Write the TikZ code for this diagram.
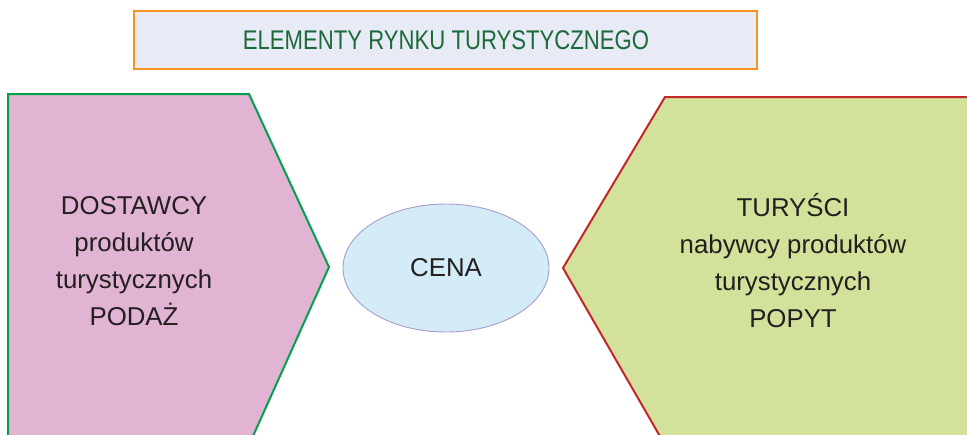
\documentclass[tikz,border=0pt]{standalone}
\usepackage{fontspec}
\setmainfont{Liberation Sans}
\usetikzlibrary{shapes.geometric}
\definecolor{titlefill}{HTML}{E8EAF5}
\definecolor{titleline}{HTML}{F7941D}
\definecolor{titletext}{HTML}{1B6B3A}
\definecolor{supplyfill}{HTML}{E1B4D4}
\definecolor{supplyline}{HTML}{00A14B}
\definecolor{demandfill}{HTML}{D2E29A}
\definecolor{demandline}{HTML}{C1272D}
\definecolor{pricefill}{HTML}{D4ECF8}
\definecolor{priceline}{HTML}{A79DC9}
\definecolor{ink}{HTML}{231F20}
\tikzset{
  bodytext/.style={text=ink, align=center, font=\fontsize{25.8}{37}\selectfont},
  titletextstyle/.style={text=titletext, font=\fontsize{27}{30}\selectfont}
}
\begin{document}
\begin{tikzpicture}[x=1pt,y=-1pt]
\useasboundingbox (0,0) rectangle (967,434);
\clip (0,0) rectangle (967,434);
\fill[white] (0,0) rectangle (967,434);

% heading bar
\draw[titleline, line width=1.6pt, fill=titlefill] (134,11) rectangle (757,69);
\node[titletextstyle] (title) at (446,40.5) {\scalebox{0.82}[1]{ELEMENTY RYNKU TURYSTYCZNEGO}};

% supply side arrow shape
\draw[supplyline, line width=2pt, fill=supplyfill, line join=miter]
  (8,445) -- (8,94) -- (249,94) -- (329,267) -- (249,445);
\node[bodytext] (supply) at (134,261) {DOSTAWCY\\produktów\\turystycznych\\PODAŻ};

% demand side arrow shape: body filled, then the open outline on top
\fill[demandfill] (975,97) -- (665,97) -- (563,268) -- (665,445) -- (975,445) -- cycle;
\draw[demandline, line width=2pt, line join=miter]
  (975,97) -- (665,97) -- (563,268) -- (665,445);
\node[bodytext] (demand) at (793,261) {TURYŚCI\\nabywcy produktów\\turystycznych\\POPYT};

% price in the middle
\node[ellipse, draw=priceline, line width=0.9pt, fill=pricefill,
      minimum width=206pt, minimum height=128pt, inner sep=0pt] (price) at (446,268) {};
\node[text=ink, font=\fontsize{25.8}{30}\selectfont] (pricelabel) at (price.center) {CENA};
\end{tikzpicture}
\end{document}
